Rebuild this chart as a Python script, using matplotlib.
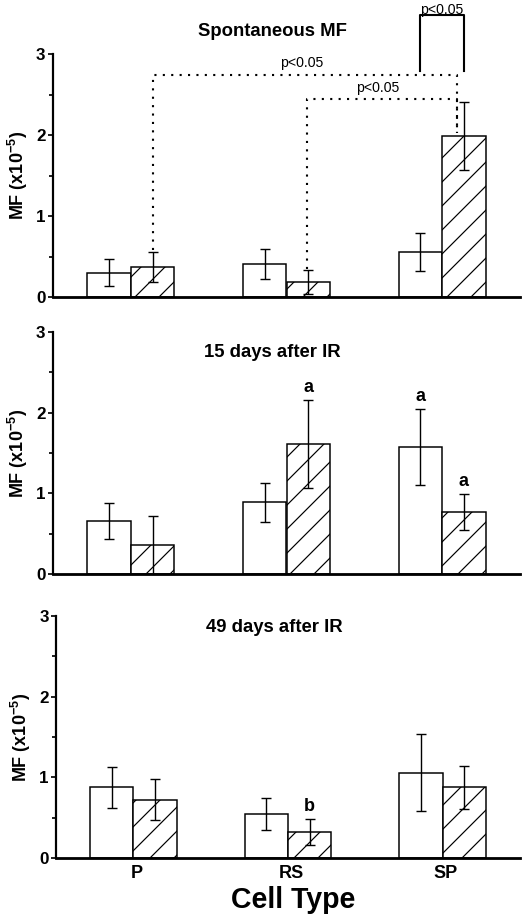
import matplotlib.pyplot as plt
import numpy as np

# dpi 72 so that 1 pt == 1 px (also gives the denser hatch of the original)
plt.rcParams['font.family'] = 'Liberation Sans'
plt.rcParams['font.weight'] = 'bold'
plt.rcParams['hatch.linewidth'] = 1.2
plt.rcParams['mathtext.fontset'] = 'custom'
plt.rcParams['mathtext.rm'] = 'Liberation Sans:bold'
plt.rcParams['mathtext.bf'] = 'Liberation Sans:bold'

cells = ['P', 'RS', 'SP']
titles = ['Spontaneous MF', '15 days after IR', '49 days after IR']
title_y = [3.28, 2.74, 2.86]

# white bars / hatched bars, mean and error for each panel
spont_white = [0.30, 0.41, 0.555]
spont_white_err = [0.17, 0.185, 0.23]
spont_hatch = [0.37, 0.185, 1.99]
spont_hatch_err = [0.19, 0.145, 0.42]

d15_white = [0.66, 0.89, 1.57]
d15_white_err = [0.22, 0.24, 0.47]
d15_hatch = [0.36, 1.61, 0.77]
d15_hatch_err = [0.36, 0.54, 0.225]

d49_white = [0.88, 0.55, 1.06]
d49_white_err = [0.255, 0.195, 0.475]
d49_hatch = [0.725, 0.33, 0.88]
d49_hatch_err = [0.25, 0.16, 0.265]

# significance letters: (panel, group, 0=white/1=hatched, letter)
letters = [(1, 1, 1, 'a'), (1, 2, 0, 'a'), (1, 2, 1, 'a'), (2, 1, 1, 'b')]

panels = [
    (spont_white, spont_white_err, spont_hatch, spont_hatch_err),
    (d15_white, d15_white_err, d15_hatch, d15_hatch_err),
    (d49_white, d49_white_err, d49_hatch, d49_hatch_err),
]

W, H = 525, 917
fig = plt.figure(figsize=(W / 72, H / 72), dpi=72)
boxes = [(53, 54, 297), (53, 331.7, 574.3), (56, 615.7, 858.3)]

x = np.arange(len(cells))
bw = 0.28
axes = []
for i, (wv, we, hv, he) in enumerate(panels):
    left, top, bot = boxes[i]
    ax = fig.add_axes([left / W, 1 - bot / H, (520 - left) / W, (bot - top) / H])
    axes.append(ax)
    ekw = dict(ecolor='black', elinewidth=1.4, capsize=5, capthick=1.4)
    ax.bar(x - bw / 2, wv, bw, yerr=we, color='white', edgecolor='black',
           linewidth=1.5, error_kw=ekw, zorder=2)
    ax.bar(x + bw / 2, hv, bw, yerr=he, color='white', edgecolor='black',
           linewidth=1.5, hatch='/', error_kw=ekw, zorder=2)
    ax.set_xlim(-0.5, 2.5)
    ax.set_ylim(0, 3)
    ax.set_yticks([0, 1, 2, 3])
    ax.set_yticks([0.5, 1.5, 2.5], minor=True)
    ax.tick_params(axis='y', which='major', length=5.5, width=1.7, labelsize=17, pad=2)
    ax.tick_params(axis='y', which='minor', length=4.2, width=1.7)
    ax.set_xticks(x + 0.02)
    ax.tick_params(axis='x', length=0, labelsize=18, pad=7)
    if i < 2:
        ax.set_xticklabels([])
    else:
        ax.set_xticklabels(cells, fontweight='bold')
    for s in ['top', 'right']:
        ax.spines[s].set_visible(False)
    ax.spines['left'].set_linewidth(2.2)
    ax.spines['bottom'].set_linewidth(2.8)
    ax.set_ylabel(r'MF (x10$^{-5}$)', fontsize=18, fontweight='bold')
    ax.yaxis.set_label_coords(-0.05, 0.5)
    ax.text(0.91, title_y[i], titles[i], ha='center', va='center',
            fontsize=18.5, fontweight='bold')

for p, g, k, s in letters:
    wv, we, hv, he = panels[p]
    top = (wv[g] + we[g]) if k == 0 else (hv[g] + he[g])
    xx = x[g] + (bw / 2 if k else -bw / 2)
    axes[p].text(xx, top + 0.1, s, ha='center', va='baseline',
                 fontsize=18, fontweight='bold')

# brackets on the spontaneous panel
ax = axes[0]
dot = dict(color='black', lw=2.1, linestyle=(0, (1, 3)), clip_on=False)
xr = x[2] + bw / 2 - 0.045
x1 = x[0] + bw / 2
x2 = x[1] + bw / 2 - 0.01
ax.plot([x1, x1, xr, xr], [0.58, 2.74, 2.74, 2.02], **dot)
ax.plot([x2, x2, xr, xr], [0.34, 2.44, 2.44, 2.02], **dot)
ax.text((x1 + xr) / 2 - 0.02, 2.80, 'p<0.05', ha='center', va='bottom',
        fontsize=14, fontweight='normal')
ax.text((x2 + xr) / 2 - 0.03, 2.50, 'p<0.05', ha='center', va='bottom',
        fontsize=14, fontweight='normal')
xa, xb = x[2] - bw / 2, x[2] + bw / 2
ax.plot([xa, xa, xb, xb], [2.79, 3.48, 3.48, 2.79], color='black', lw=2.1,
        clip_on=False)
ax.text((xa + xb) / 2, 3.46, 'p<0.05', ha='center', va='bottom',
        fontsize=14, fontweight='normal', clip_on=False)

fig.text(293 / W, 1 - 900 / H, 'Cell Type', ha='center', va='center',
         fontsize=28.5, fontweight='bold')

fig.savefig('out.png', dpi=72)
